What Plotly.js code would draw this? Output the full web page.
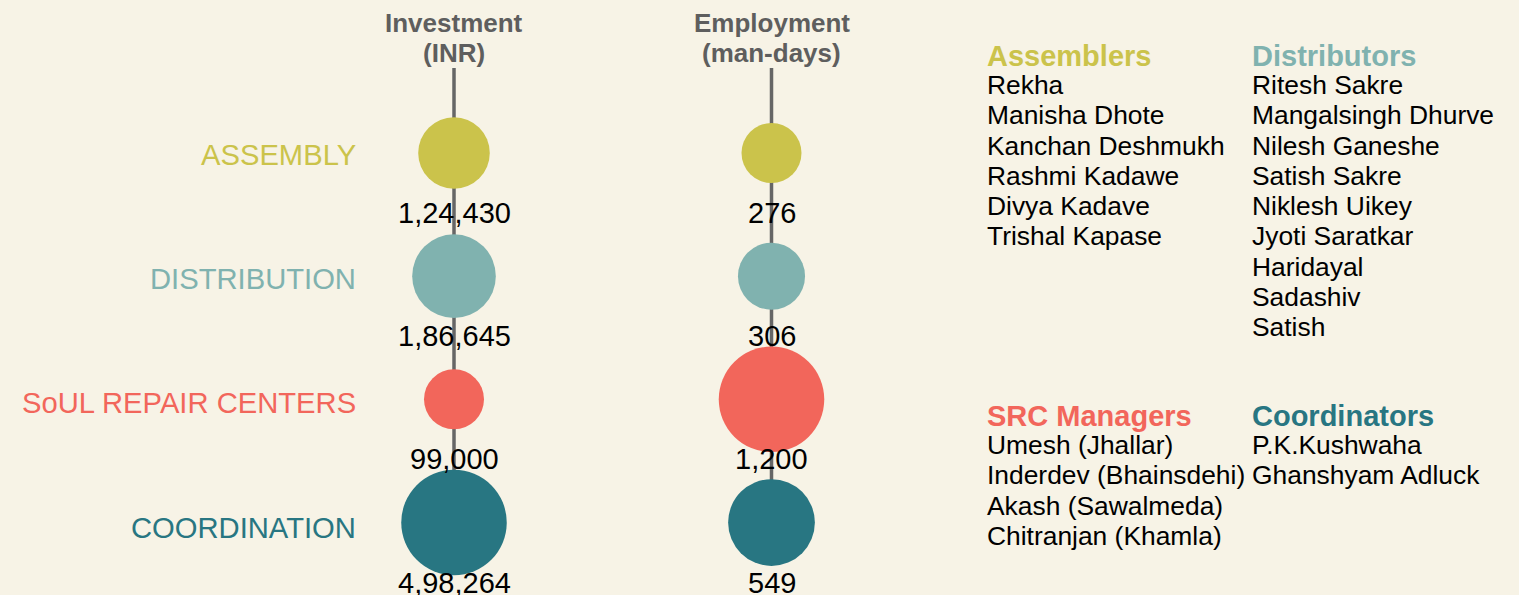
<!DOCTYPE html>
<html>
<head>
<meta charset="utf-8">
<script src="https://cdn.plot.ly/plotly-3.0.1.min.js"></script>
<style>
html,body{margin:0;padding:0;background:#f7f3e6;}
#chart{width:1519px;height:595px;}
</style>
</head>
<body>
<div id="chart"></div>
<script>
// ---- data ----
const categories = ['ASSEMBLY', 'DISTRIBUTION', 'SoUL REPAIR CENTERS', 'COORDINATION'];
const investment = [124430, 186645, 99000, 498264];
const employment = [276, 306, 1200, 549];
const columnTitles = ['Investment\n(INR)', 'Employment\n(man-days)'];
const groupTitles = ['Assemblers', 'Distributors', 'SRC Managers', 'Coordinators'];
const assemblers = ['Rekha', 'Manisha Dhote', 'Kanchan Deshmukh', 'Rashmi Kadawe', 'Divya Kadave', 'Trishal Kapase'];
const distributors = ['Ritesh Sakre', 'Mangalsingh Dhurve', 'Nilesh Ganeshe', 'Satish Sakre', 'Niklesh Uikey', 'Jyoti Saratkar', 'Haridayal', 'Sadashiv', 'Satish'];
const srcManagers = ['Umesh (Jhallar)', 'Inderdev (Bhainsdehi)', 'Akash (Sawalmeda)', 'Chitranjan (Khamla)'];
const coordinators = ['P.K.Kushwaha', 'Ghanshyam Adluck'];

// ---- styles ----
const colors = ['#cbc34b', '#80b2af', '#f2665b', '#287682'];
const BG = '#f7f3e6';
const FONT = 'Liberation Sans, Arial, sans-serif';
const W = 1519, H = 595;

function inr(n) {
  const s = String(n);
  if (s.length <= 3) return s;
  const last3 = s.slice(-3);
  let rest = s.slice(0, -3);
  const parts = [];
  while (rest.length > 2) { parts.unshift(rest.slice(-2)); rest = rest.slice(0, -2); }
  if (rest) parts.unshift(rest);
  return parts.join(',') + ',' + last3;
}
function sizes(vals) {
  const lmin = Math.log(Math.min(...vals)), lmax = Math.log(Math.max(...vals));
  return vals.map(v => 60 + 45.5 * Math.pow((Math.log(v) - lmin) / (lmax - lmin), 0.7));
}
const py = p => 1 - p / H;   // pixel-from-top -> paper
const px = p => p / W;

const series = [investment, employment];
const traces = series.map((vals, i) => ({
  type: 'scatter', mode: 'markers',
  x: categories.map(() => i), y: categories,
  marker: { color: colors, size: sizes(vals), sizemode: 'diameter', opacity: 1, line: { width: 0 } },
  hoverinfo: 'skip', showlegend: false, cliponaxis: false
}));

const annotations = [];
const shapes = [];
series.forEach((vals, i) => {
  columnTitles[i].split('\n').forEach((t, k) => {
    annotations.push({ xref: 'x', yref: 'paper', x: i, y: py(23 + 30 * k), text: '<b>' + t + '</b>',
      showarrow: false, xanchor: 'center', yanchor: 'middle', font: { family: FONT, size: 26, color: '#5e5e5e' } });
  });
  vals.forEach((v, j) => {
    annotations.push({ xref: 'x', yref: 'y', x: i, y: categories[j], yshift: -60, text: inr(v),
      showarrow: false, xanchor: 'center', yanchor: 'middle', font: { family: FONT, size: 29, color: '#000' } });
  });
  shapes.push({ type: 'line', xref: 'x', yref: 'paper', x0: i, x1: i, y0: py(68), y1: py(522),
    line: { color: '#666666', width: 3.5 }, layer: 'below' });
});
// category labels
categories.forEach((c, j) => {
  annotations.push({ xref: 'paper', yref: 'paper', x: px(358), y: py(155 + 124.2 * j), text: c, showarrow: false,
    xanchor: 'right', yanchor: 'middle', font: { family: FONT, size: 29.2, color: colors[j] } });
});
// name panels
const groups = [assemblers, distributors, srcManagers, coordinators];
const gx = [985, 1250, 985, 1250];
const gy = [56, 56, 416, 416];
groups.forEach((names, g) => {
  annotations.push({ xref: 'paper', yref: 'paper', x: px(gx[g]), y: py(gy[g]), text: '<b>' + groupTitles[g] + '</b>',
    showarrow: false, xanchor: 'left', yanchor: 'middle', font: { family: FONT, size: 29, color: colors[g] } });
  names.forEach((n, k) => {
    annotations.push({ xref: 'paper', yref: 'paper', x: px(gx[g]), y: py(gy[g] + 29 + 30.25 * k), text: n,
      showarrow: false, xanchor: 'left', yanchor: 'middle', font: { family: FONT, size: 26.4, color: '#000' } });
  });
});

const pxPerX = 317.5, x0px = 454;
const pxPerY = 123.17, y0px = 153;
const layout = {
  width: W, height: H,
  margin: { l: 0, r: 0, t: 0, b: 0, pad: 0 },
  paper_bgcolor: BG, plot_bgcolor: BG,
  xaxis: { range: [-x0px / pxPerX, (W - x0px) / pxPerX], visible: false, fixedrange: true },
  yaxis: { type: 'category', categoryorder: 'array', categoryarray: categories,
           range: [(H - y0px) / pxPerY, -y0px / pxPerY], visible: false, fixedrange: true },
  annotations: annotations, shapes: shapes, showlegend: false
};
Plotly.newPlot('chart', traces, layout, { displayModeBar: false, staticPlot: true });
</script>
</body>
</html>
